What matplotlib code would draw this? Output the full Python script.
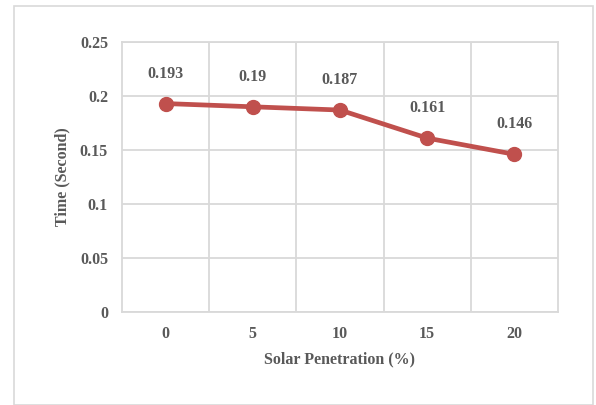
import matplotlib
matplotlib.use("Agg")
import matplotlib.pyplot as plt
from matplotlib.patches import Rectangle

categories = ["0", "5", "10", "15", "20"]
times = [0.193, 0.19, 0.187, 0.161, 0.146]
y_ticks = [0, 0.05, 0.1, 0.15, 0.2, 0.25]
y_tick_labels = ["0", "0.05", "0.1", "0.15", "0.2", "0.25"]

W, H = 596, 405
fig = plt.figure(figsize=(W / 100, H / 100), dpi=100)
fig.patch.set_facecolor("white")

# outer chart-area frame
fig.add_artist(Rectangle((14 / W, 0.5 / H), (593 - 14) / W, (H - 6 - 0.5) / H,
                         transform=fig.transFigure, fill=False,
                         edgecolor="#D9D9D9", linewidth=1.2))

ax = fig.add_axes([122 / W, 1 - 312 / H, (558 - 122) / W, (312 - 42) / H])

font = {"family": ["Liberation Serif", "DejaVu Serif"], "weight": "bold"}
fs = 11.5
text_color = "#595959"
line_color = "#C0504D"
grid_color = "#D9D9D9"

n = len(categories)
xs = list(range(n))
ax.set_xlim(-0.5, n - 0.5)
ax.set_ylim(0, 0.25)

# category boundary gridlines and value gridlines
for b in range(1, n):
    ax.axvline(b - 0.5, color=grid_color, linewidth=1.3, zorder=1)
for t in y_ticks:
    ax.axhline(t, color=grid_color, linewidth=1.3, zorder=1)

for s in ax.spines.values():
    s.set_color(grid_color)
    s.set_linewidth(1.3)

ax.plot(xs, times, color=line_color, linewidth=3.4, marker="o",
        markersize=10, zorder=3, solid_capstyle="round")

for x, v in zip(xs, times):
    ax.annotate(f"{v:g}", (x, v), xytext=(0, 21.5), textcoords="offset points",
                ha="center", va="center", color=text_color, fontsize=fs,
                **font)

ax.set_xticks(xs)
ax.set_xticklabels(categories)
ax.set_yticks(y_ticks)
ax.set_yticklabels(y_tick_labels)
ax.tick_params(length=0, pad=10, colors=text_color, labelsize=fs)
for lab in ax.get_xticklabels() + ax.get_yticklabels():
    lab.set_family(font["family"])
    lab.set_weight("bold")

ax.set_xlabel("Solar Penetration (%)", color=text_color, fontsize=fs,
              va="center", **font)
ax.xaxis.set_label_coords(0.5, (312 - 359) / 270)
ax.set_ylabel("Time (Second)", color=text_color, fontsize=fs,
              va="center", **font)
ax.yaxis.set_label_coords((62 - 122) / 436, 0.5)

fig.savefig("out.png", dpi=100)
